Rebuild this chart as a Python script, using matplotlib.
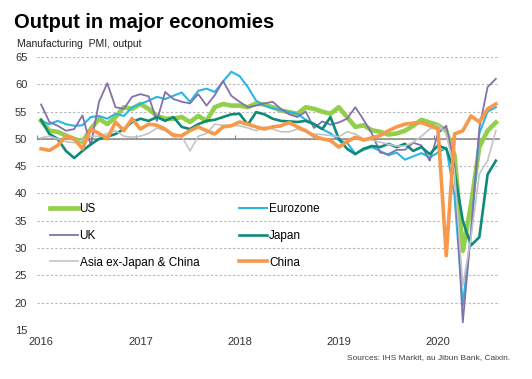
import matplotlib
matplotlib.use("Agg")
import matplotlib.pyplot as plt
import numpy as np

plt.rcParams['font.family'] = ['Liberation Sans', 'DejaVu Sans']

# monthly PMI output, Jan 2016 - Aug 2020
years = ['2016', '2017', '2018', '2019', '2020']

us = [53.3, 51.5, 51.3, 50.6, 50.0, 49.5, 51.8, 53.7, 52.7, 54.0, 55.8, 55.5,
      56.4, 55.5, 54.2, 53.7, 53.7, 54.0, 53.1, 54.2, 53.3, 55.8, 56.4, 56.1,
      56.1, 55.8, 56.5, 56.3, 55.8, 55.2, 54.9, 54.6, 55.8, 55.5, 55.0, 54.6,
      55.8, 54.0, 52.2, 52.5, 51.6, 51.3, 50.8, 51.0, 51.5, 52.4, 53.5, 53.0,
      52.5, 51.5, 47.0, 29.5, 38.0, 48.5, 51.5, 53.0]
eurozone = [53.3, 52.7, 53.3, 52.7, 52.4, 52.5, 54.0, 54.2, 53.7, 54.6, 54.2, 55.8,
            56.4, 57.0, 57.7, 57.3, 57.9, 58.5, 56.8, 58.8, 59.2, 58.6, 60.5, 62.3,
            61.5, 59.5, 57.0, 56.1, 55.6, 55.3, 54.9, 54.6, 53.5, 52.8, 51.8, 51.0,
            49.8, 49.3, 47.3, 48.0, 48.5, 47.8, 47.0, 47.5, 46.2, 46.8, 47.4, 46.6,
            47.5, 48.4, 39.5, 19.5, 33.0, 51.0, 55.0, 55.8]
uk = [56.3, 53.1, 52.4, 51.5, 51.8, 54.3, 48.8, 56.8, 60.2, 55.8, 55.5, 57.7,
      58.2, 57.8, 53.3, 58.6, 57.3, 56.8, 56.5, 58.2, 56.1, 58.0, 60.6, 57.9,
      56.8, 55.8, 56.1, 56.5, 56.8, 55.5, 54.5, 54.0, 55.0, 52.0, 53.2, 52.6,
      53.0, 53.7, 55.8, 53.5, 51.0, 47.5, 47.2, 48.0, 48.0, 49.3, 48.8, 46.0,
      51.0, 52.4, 45.0, 16.4, 33.0, 52.0, 59.5, 61.0]
japan = [53.5, 50.9, 50.0, 47.8, 46.5, 47.8, 49.0, 50.0, 50.4, 50.9, 51.8, 53.1,
         53.7, 53.3, 54.0, 53.3, 54.0, 52.2, 51.8, 52.7, 53.3, 53.5, 54.0, 54.5,
         54.6, 52.6, 54.9, 54.5, 53.7, 53.3, 53.2, 53.1, 53.3, 52.7, 51.8, 54.0,
         50.0, 48.2, 47.2, 48.2, 48.7, 48.5, 49.1, 48.5, 49.1, 47.8, 48.5, 47.2,
         48.8, 48.2, 44.0, 35.0, 30.5, 32.0, 43.5, 46.0]
asia = [50.2, 50.5, 50.0, 49.5, 49.3, 49.7, 50.5, 50.5, 51.0, 51.5, 50.5, 50.3,
        50.5, 51.0, 52.0, 51.5, 51.0, 50.5, 47.8, 50.5, 51.0, 52.7, 52.5, 52.5,
        52.4, 52.0, 51.5, 52.2, 51.8, 51.3, 51.3, 51.8, 51.3, 50.9, 50.8, 50.6,
        50.4, 51.3, 50.9, 50.0, 49.8, 49.4, 49.0, 48.7, 48.7, 49.4, 50.5, 51.8,
        52.6, 51.0, 44.0, 23.1, 32.0, 43.6, 46.0, 51.5]
china = [48.2, 47.9, 48.8, 50.5, 50.0, 48.2, 51.8, 51.0, 50.0, 53.1, 51.5, 53.7,
         51.8, 52.7, 52.5, 51.8, 50.6, 50.6, 51.5, 52.2, 51.5, 50.9, 52.2, 52.4,
         53.1, 52.7, 52.2, 51.8, 52.2, 52.4, 53.0, 52.2, 51.5, 50.5, 50.0, 49.7,
         48.5, 49.5, 50.3, 49.8, 50.2, 50.6, 51.5, 52.2, 52.7, 52.9, 53.0, 52.4,
         51.8, 28.6, 50.9, 51.5, 54.2, 53.1, 55.5, 56.4]

series = [
    ('US', us, '#92cf4a', 3.3),
    ('Eurozone', eurozone, '#2bb6e6', 1.5),
    ('UK', uk, '#8470ad', 1.3),
    ('Japan', japan, '#0e8a7b', 1.9),
    ('Asia ex-Japan & China', asia, '#c4c4c4', 1.2),
    ('China', china, '#f7984a', 2.6),
]

months = np.arange(len(us))

fig = plt.figure(figsize=(5.32, 3.79), dpi=100)
ax = fig.add_axes([37 / 532, 1 - 330 / 379, 463 / 532, 273 / 379])

handles = []
for name, vals, col, lw in series:
    h, = ax.plot(months, vals, color=col, lw=lw, label=name, zorder=3)
    handles.append(h)

ax.set_xlim(-0.5, len(us) - 0.5)
ax.set_ylim(15, 65)
ax.set_yticks(np.arange(15, 66, 5))
ax.yaxis.grid(True, color='#b5b5b5', linestyle=(0, (2, 2)), linewidth=0.8)
ax.set_axisbelow(True)
for s in ax.spines.values():
    s.set_visible(False)
ax.tick_params(axis='y', length=0, pad=7, labelsize=8, labelcolor='#333333')

ax.set_xticks(months[::12])
ax.set_xticklabels(years)
ax.tick_params(axis='x', length=0, pad=5, labelsize=8, labelcolor='#333333')

# axis line at 50 (behind the series) with year separators
ax.axhline(50, color='#858585', lw=1.1, zorder=2)
sec = ax.secondary_xaxis((50 - 15) / (65 - 15))
for s in sec.spines.values():
    s.set_visible(False)
sec.set_xticks(months[::12] - 0.5)
sec.set_xticklabels([''] * len(years))
sec.tick_params(length=3, width=0.8, color='#858585')

# legend filled row by row, two columns
order = [0, 2, 4, 1, 3, 5]
ax.legend([handles[i] for i in order], [series[i][0] for i in order],
          loc='upper left', bbox_to_anchor=(0.027, 0.465), ncol=2, frameon=False,
          fontsize=8.5, handlelength=2.4, handletextpad=0.15, columnspacing=3.35,
          labelspacing=1.25, borderaxespad=0, borderpad=0)

fig.text(14 / 532, 1 - 22 / 379, 'Output in major economies', fontsize=14.5,
         fontweight='bold', va='center', ha='left')
fig.text(17 / 532, 1 - 44 / 379, 'Manufacturing  PMI, output', fontsize=7.5,
         va='center', ha='left', color='#222222')
fig.text(510 / 532, 1 - 358 / 379, 'Sources: IHS Markit, au Jibun Bank, Caixin.',
         fontsize=6, va='center', ha='right', color='#404040')

fig.savefig('out.png', dpi=100)
